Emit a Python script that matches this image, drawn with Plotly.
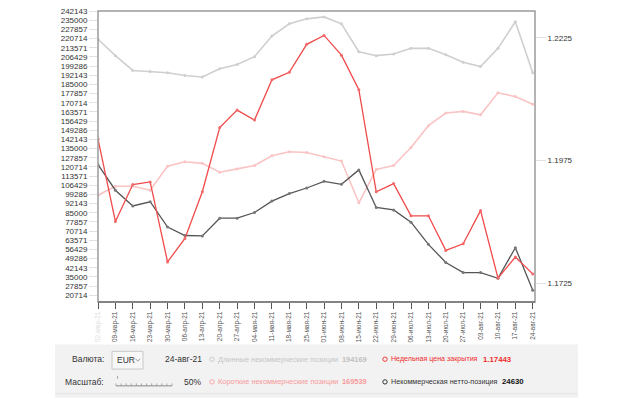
import plotly.graph_objects as go

# ---------------- data ----------------
dates = ["02-мар-21", "09-мар-21", "16-мар-21", "23-мар-21", "30-мар-21", "06-апр-21",
         "13-апр-21", "20-апр-21", "27-апр-21", "04-мая-21", "11-мая-21", "18-мая-21",
         "25-мая-21", "01-июн-21", "08-июн-21", "15-июн-21", "22-июн-21", "29-июн-21",
         "06-июл-21", "13-июл-21", "20-июл-21", "27-июл-21", "03-авг-21", "10-авг-21",
         "17-авг-21", "24-авг-21"]

long_pos = [220200, 207400, 195900, 195100, 194100, 192000, 190800, 197200, 200500,
            206600, 222700, 232200, 236100, 237600, 232200, 210500, 207400, 208700,
            213100, 213100, 208100, 202300, 198900, 213100, 233800, 194169]

short_pos = [98700, 105700, 105700, 102600, 121200, 124800, 123500, 116600, 119200,
             121800, 129400, 132500, 132000, 128700, 125300, 92800, 118700, 121800,
             135800, 152900, 162700, 164000, 161300, 178500, 175500, 169539]

net_pos = [122500, 102600, 90300, 93600, 73900, 67300, 67000, 80800, 80800,
           85200, 94100, 100000, 104300, 109500, 107200, 118400, 89200, 87200,
           77700, 60400, 46300, 38400, 38400, 34000, 57800, 24630]

close_price = [1.20189, 1.18512, 1.19263, 1.19317, 1.17687, 1.18164, 1.19116, 1.20424,
               1.20781, 1.20579, 1.21397, 1.21551, 1.22121, 1.22302, 1.21900, 1.21195,
               1.19116, 1.19283, 1.18627, 1.18627, 1.17922, 1.18055, 1.18733, 1.17358,
               1.17787, 1.17443]

left_tick_labels = ["20714", "27857", "35000", "42143", "49286", "56429", "63571", "70714",
                    "77857", "85000", "92143", "99286", "106429", "113571", "120714",
                    "127857", "135000", "142143", "149286", "156429", "163571", "170714",
                    "177857", "185000", "192143", "199286", "206429", "213571", "220714",
                    "227857", "235000", "242143"]

right_tick_labels = ["1.1725", "1.1975", "1.2225"]

# ---------------- layout geometry ----------------
W, H = 620, 399
L, R, T, B = 98, 535, 7, 302   # plot area in pixels


def px(x):
    return (x - L) / (R - L)


def py(y):
    return (B - y) / (B - T)


xs = list(range(len(dates)))

fig = go.Figure()

fig.add_trace(go.Scatter(x=xs, y=long_pos, mode="lines+markers", yaxis="y",
                         line=dict(color="#cfcfcf", width=1.6),
                         marker=dict(size=3, color="#cfcfcf"), hoverinfo="skip"))
fig.add_trace(go.Scatter(x=xs, y=short_pos, mode="lines+markers", yaxis="y",
                         line=dict(color="#fac4c4", width=1.6),
                         marker=dict(size=3, color="#fac4c4"), hoverinfo="skip"))
fig.add_trace(go.Scatter(x=xs, y=net_pos, mode="lines+markers", yaxis="y",
                         line=dict(color="#555555", width=1.3),
                         marker=dict(size=3, color="#777777"), hoverinfo="skip"))
fig.add_trace(go.Scatter(x=xs, y=close_price, mode="lines+markers", yaxis="y2",
                         line=dict(color="#f04a4a", width=1.3),
                         marker=dict(size=3, color="#f46a6a"), hoverinfo="skip"))

xticktext = ['<span style="color:#dddddd">' + dates[0] + '</span>'] + dates[1:]

fig.update_layout(
    width=W, height=H,
    margin=dict(l=L, r=W - R, t=T, b=H - B, pad=0),
    paper_bgcolor="white", plot_bgcolor="white",
    showlegend=False,
    font=dict(family="Liberation Sans, Arial, sans-serif", size=8, color="#333333"),
    xaxis=dict(
        range=[0, 25.13], tickmode="array", tickvals=xs, ticktext=xticktext,
        tickangle=-90, tickfont=dict(size=6.5, color="#555555"),
        ticks="outside", ticklen=6, tickcolor="#555555", tickwidth=1,
        showgrid=False, zeroline=False, showline=False,
    ),
    yaxis=dict(
        range=[15500, 242200], tickmode="array",
        tickvals=[int(v) for v in left_tick_labels], ticktext=left_tick_labels,
        ticks="outside", ticklen=8, tickcolor="#e2e2e2", tickwidth=1,
        tickfont=dict(size=8, color="#333333"),
        showgrid=False, zeroline=False, showline=False,
    ),
    yaxis2=dict(
        range=[1.1687, 1.2280], overlaying="y", side="right", tickmode="array",
        tickvals=[float(v) for v in right_tick_labels], ticktext=right_tick_labels,
        ticks="outside", ticklen=10, tickcolor="#e2e2e2", tickwidth=1,
        tickfont=dict(size=8, color="#333333"),
        showgrid=False, zeroline=False, showline=False,
    ),
)

shapes = []
# plot frame
shapes.append(dict(type="rect", xref="paper", yref="paper", x0=0, x1=1, y0=0, y1=1,
                   line=dict(color="#9a9a9a", width=1.5), fillcolor="rgba(0,0,0,0)",
                   layer="above"))
shapes.append(dict(type="line", xref="paper", yref="paper", x0=0, x1=1, y0=0, y1=0,
                   line=dict(color="#555555", width=1.2), layer="above"))
# control panel background
shapes.append(dict(type="rect", xref="paper", yref="paper",
                   x0=px(55), x1=px(578), y0=py(399), y1=py(345),
                   line=dict(width=0), fillcolor="#f2f2f2", layer="below"))
shapes.append(dict(type="line", xref="paper", yref="paper",
                   x0=px(55), x1=px(578), y0=py(395), y1=py(395),
                   line=dict(color="#e4e4e4", width=1)))
# currency dropdown
shapes.append(dict(type="rect", xref="paper", yref="paper",
                   x0=px(112), x1=px(143), y0=py(370), y1=py(352),
                   line=dict(color="#c8c8c8", width=1), fillcolor="#f7f7f7"))
shapes.append(dict(type="path", xref="paper", yref="paper",
                   path="M %f,%f L %f,%f L %f,%f" % (px(135.5), py(359.5), px(137.8), py(362),
                                                     px(140.1), py(359.5)),
                   line=dict(color="#999999", width=1)))
# slider ruler
shapes.append(dict(type="line", xref="paper", yref="paper",
                   x0=px(116), x1=px(172), y0=py(387), y1=py(387),
                   line=dict(color="#888888", width=1)))
for i in range(12):
    xx = 116 + i * 56 / 11
    shapes.append(dict(type="line", xref="paper", yref="paper",
                       x0=px(xx), x1=px(xx), y0=py(387), y1=py(384.5),
                       line=dict(color="#999999", width=0.8)))
shapes.append(dict(type="line", xref="paper", yref="paper",
                   x0=px(117.5), x1=px(117.5), y0=py(380), y1=py(377),
                   line=dict(color="#aaaaaa", width=1)))
# legend circles
for cx, cy, col in [(212, 360, "#cccccc"), (212, 383, "#f8a8a8"),
                    (385, 360, "#f03c3c"), (385, 383, "#333333")]:
    shapes.append(dict(type="circle", xref="paper", yref="paper",
                       x0=px(cx - 2.2), x1=px(cx + 2.2), y0=py(cy + 2.2), y1=py(cy - 2.2),
                       line=dict(color=col, width=1), fillcolor="rgba(0,0,0,0)"))
fig.update_layout(shapes=shapes)

ann = []


def text(x, y, s, color="#333333", size=8, anchor="left", bold=False):
    if bold:
        s = "<b>" + s + "</b>"
    ann.append(dict(x=px(x), y=py(y), xref="paper", yref="paper", text=s,
                    showarrow=False, xanchor=anchor, yanchor="middle",
                    font=dict(size=size, color=color,
                              family="Liberation Sans, Arial, sans-serif")))


text(106, 360, "Валюта:", anchor="right", size=8.5)
text(115, 361, "EUR", size=8.5)
text(204, 360, "24-авг-21", anchor="right", size=8.5)
text(106, 383, "Масштаб:", anchor="right", size=8.5)
text(203, 383, "50%", anchor="right", size=8.5)
text(216, 360, "Длинные некоммерческие позиции", color="#c6c6c6", size=7.4)
text(369, 360, "194169", color="#c0c0c0", size=7.4, bold=True, anchor="right")
text(389, 360, "Недельная цена закрытия", color="#f02c2c", size=7.1)
text(514, 360, "1.17443", color="#f02c2c", size=7.8, bold=True, anchor="right")
text(216, 383, "Короткие некоммерческие позиции", color="#f79a9a", size=7.4)
text(369, 383, "169539", color="#f79a9a", size=7.4, bold=True, anchor="right")
text(389, 383, "Некоммерческая нетто-позиция", color="#333333", size=7.2)
text(526, 383, "24630", color="#111111", size=7.8, bold=True, anchor="right")

fig.update_layout(annotations=ann)

fig.write_html("out.html", config={"displayModeBar": False})
with open("out.html", "r", encoding="utf-8") as f:
    html = f.read()
html = html.replace("<head>", "<head><style>html,body{margin:0;padding:0;overflow:hidden}</style>", 1)
with open("out.html", "w", encoding="utf-8") as f:
    f.write(html)
